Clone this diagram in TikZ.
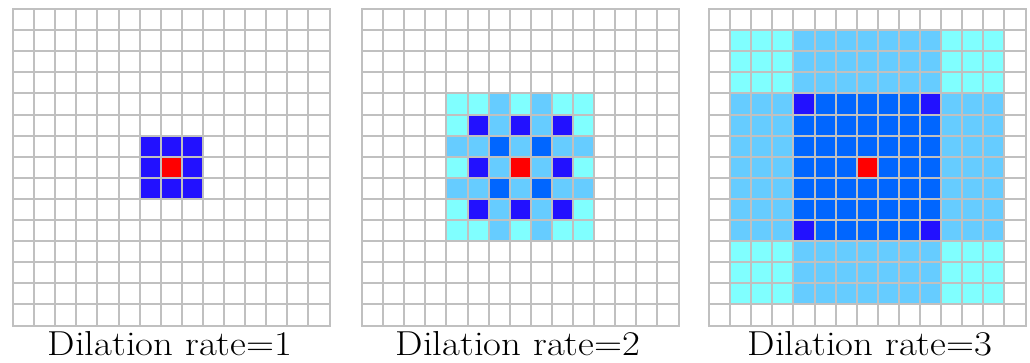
\documentclass[tikz,border=0pt]{standalone}
\definecolor{dblue}{RGB}{34,17,255}
\definecolor{mblue}{RGB}{0,102,255}
\definecolor{lblue}{RGB}{102,204,255}
\definecolor{cyanc}{RGB}{128,255,255}
\definecolor{gridgray}{RGB}{192,192,192}
\newcommand\cs{21.1}
% #1 panel x0, #2 col, #3 row (from top), #4 colour
\newcommand\cellat[4]{\fill[#4] ({#1+#2*\cs},{353-(#3+1)*\cs}) rectangle ++(\cs,\cs);}
% block: #1 x0, #2 col0, #3 row0, #4 col1, #5 row1, #6 colour
\newcommand\blockat[6]{\fill[#6] ({#1+#2*\cs},{353-(#5+1)*\cs}) rectangle ({#1+(#4+1)*\cs},{353-#3*\cs});}
\newcommand\gridat[1]{%
  \foreach \i in {0,...,15}{%
    \draw[gridline] ({#1+\i*\cs},{353-15*\cs}) -- ({#1+\i*\cs},353);
    \draw[gridline] (#1,{353-\i*\cs}) -- ({#1+15*\cs},{353-\i*\cs});
  }}
\tikzset{
  gridline/.style={draw=gridgray, line width=1.5pt, line cap=rect},
  caption/.style={anchor=base, inner sep=0pt, font=\fontsize{26}{28}\selectfont}
}
\begin{document}
\begin{tikzpicture}[x=0.75pt,y=0.75pt]
\useasboundingbox (0,0) rectangle (1030,362);
% ---------- panel 1 ----------
\def\xa{13}
\blockat{\xa}{6}{6}{8}{8}{dblue}
\cellat{\xa}{7}{7}{red}
\gridat{\xa}
% ---------- panel 2 ----------
\def\xb{362}
\foreach \c in {4,5,7,9,10}{\cellat{\xb}{\c}{4}{cyanc}\cellat{\xb}{\c}{10}{cyanc}}
\foreach \r in {5,7,9}{\cellat{\xb}{4}{\r}{cyanc}\cellat{\xb}{10}{\r}{cyanc}}
\foreach \r in {4,5,7,9,10}{\cellat{\xb}{6}{\r}{lblue}\cellat{\xb}{8}{\r}{lblue}}
\foreach \c in {4,5,7,9,10}{\cellat{\xb}{\c}{6}{lblue}\cellat{\xb}{\c}{8}{lblue}}
\foreach \r in {5,7,9}{\cellat{\xb}{5}{\r}{dblue}\cellat{\xb}{9}{\r}{dblue}}
\cellat{\xb}{7}{5}{dblue}\cellat{\xb}{7}{9}{dblue}
\foreach \r in {6,8}{\cellat{\xb}{6}{\r}{mblue}\cellat{\xb}{8}{\r}{mblue}}
\cellat{\xb}{7}{7}{red}
\gridat{\xb}
% ---------- panel 3 ----------
\def\xc{709}
\blockat{\xc}{1}{1}{13}{13}{lblue}
\blockat{\xc}{1}{1}{3}{3}{cyanc}
\blockat{\xc}{11}{1}{13}{3}{cyanc}
\blockat{\xc}{1}{11}{3}{13}{cyanc}
\blockat{\xc}{11}{11}{13}{13}{cyanc}
\blockat{\xc}{4}{4}{10}{10}{mblue}
\cellat{\xc}{4}{4}{dblue}\cellat{\xc}{10}{4}{dblue}
\cellat{\xc}{4}{10}{dblue}\cellat{\xc}{10}{10}{dblue}
\cellat{\xc}{7}{7}{red}
\gridat{\xc}
% ---------- captions ----------
\node[caption] (t1) at (170,7) {\scalebox{1.12}[1]{Dilation rate=1}};
\node[caption] (t2) at (518,7) {\scalebox{1.12}[1]{Dilation rate=2}};
\node[caption] (t3) at (870,7) {\scalebox{1.12}[1]{Dilation rate=3}};
\end{tikzpicture}
\end{document}
